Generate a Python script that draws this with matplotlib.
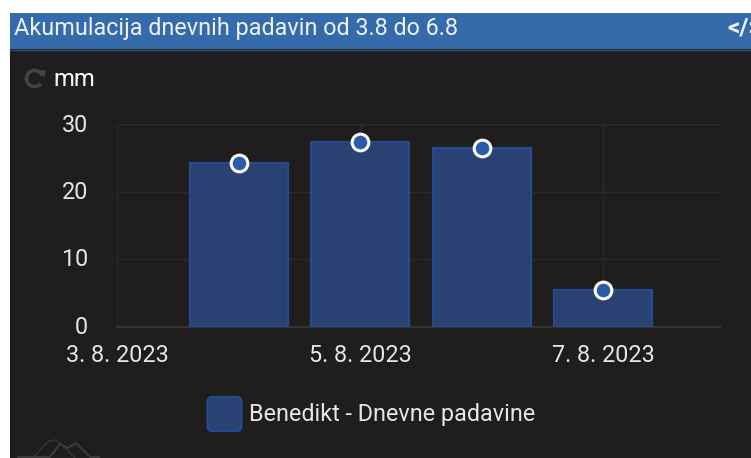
import matplotlib
matplotlib.use("Agg")
import matplotlib.pyplot as plt
from matplotlib.patches import Rectangle, FancyBboxPatch, Arc, Polygon
from matplotlib.transforms import ScaledTranslation

plt.rcParams['font.family'] = ['Roboto', 'DejaVu Sans']

dates = ["3. 8. 2023", "4. 8. 2023", "5. 8. 2023", "6. 8. 2023", "7. 8. 2023"]
positions = [1, 2, 3, 4]
rain_mm = [24.2, 27.3, 26.4, 5.4]
y_ticks = [0, 10, 20, 30]
x_ticks = [0, 2, 4]
series_name = "Benedikt - Dnevne padavine"
title = "Akumulacija dnevnih padavin od 3.8 do 6.8"
unit = "mm"

W, H = 751, 458
BG = "#1f1e1d"
HEAD = "#366bab"
BAR = "#2a4273"
EDGE = "#264a8f"
DOT = "#2b5ca8"
GRID = "#2b2a29"
TXT = "#e6e6e6"

fig = plt.figure(figsize=(W / 100, H / 100), dpi=100, facecolor="white")

# overlay in pixel coordinates for the page chrome
bg = fig.add_axes([0, 0, 1, 1])
bg.set_xlim(0, W)
bg.set_ylim(H, 0)
bg.axis("off")
bg.add_patch(Rectangle((10, 13), W - 10, H - 13, fc=BG, ec="none"))
bg.add_patch(Rectangle((10, 13), W - 10, 36, fc=HEAD, ec="none"))
bg.plot([10, W], [49.5, 49.5], color="#2f5578", lw=1)
bg.text(14, 29, title, color="#eef2f7", fontsize=16.85, va="center", ha="left")
bg.text(727, 28, "</>", color="#f0f3f8", fontsize=17.5, va="center", ha="left",
        fontweight="bold", clip_on=True)

# refresh icon
bg.add_patch(Arc((34.5, 78.5), 16, 16, theta1=-320, theta2=-20, color="#454443", lw=2.6))
bg.add_patch(Polygon([[38, 71], [45.5, 70], [45, 77.5]], fc="#454443", ec="none"))
bg.text(53, 79, unit, color="#ffffff", fontsize=17.2, va="center", ha="left")

# legend
bg.add_patch(FancyBboxPatch((207.5, 397), 34, 34, boxstyle="round,pad=0,rounding_size=5",
                            fc=BAR, ec=EDGE, lw=1.6))
bg.text(249, 414.5, series_name, color=TXT, fontsize=16.8, va="center", ha="left")

# mountain logo
logo = "#3d3c3b"
bg.plot([33, 40, 49, 56, 66, 75], [458, 450, 441, 440, 449, 458], color="#333231", lw=1.2)
bg.plot([18, 50, 60, 68, 76, 90, 99], [457, 457, 444, 448, 443, 457, 457], color=logo, lw=1.4)

# chart
x0, x1 = 117.5, 719.5
ytop, ybot = 124.0, 326.5
ax = fig.add_axes([x0 / W, 1 - ybot / H, (x1 - x0) / W, (ybot - ytop) / H])
ax.set_facecolor("none")
ax.set_xlim(0, (x1 - x0) / 121.4)
ax.set_ylim(0, 30)
ax.set_axisbelow(True)
ax.grid(True, color=GRID, lw=1)
ax.bar(positions, rain_mm, width=0.805, color=BAR, edgecolor=EDGE, lw=1.6,
       label=series_name, zorder=2)
ax.plot(positions, rain_mm, ls="none", marker="o", ms=12, mfc=DOT, mec="white",
        mew=2.2, zorder=4, clip_on=False)
ax.set_yticks(y_ticks)
ax.set_xticks(x_ticks)
ax.set_xticklabels([dates[i] for i in x_ticks])
ax.tick_params(length=0, colors=TXT, labelsize=16.8)
ax.tick_params(axis="x", pad=12.5)
ax.tick_params(axis="y", pad=21)
shift = ScaledTranslation(0, 1.5 / 100, fig.dpi_scale_trans)
for lab in ax.get_yticklabels():
    lab.set_transform(lab.get_transform() + shift)
for s in ax.spines.values():
    s.set_visible(False)
ax.axhline(0, color="#343332", lw=1.6, zorder=1, clip_on=False)

fig.savefig("out.png", dpi=100, facecolor="white")
